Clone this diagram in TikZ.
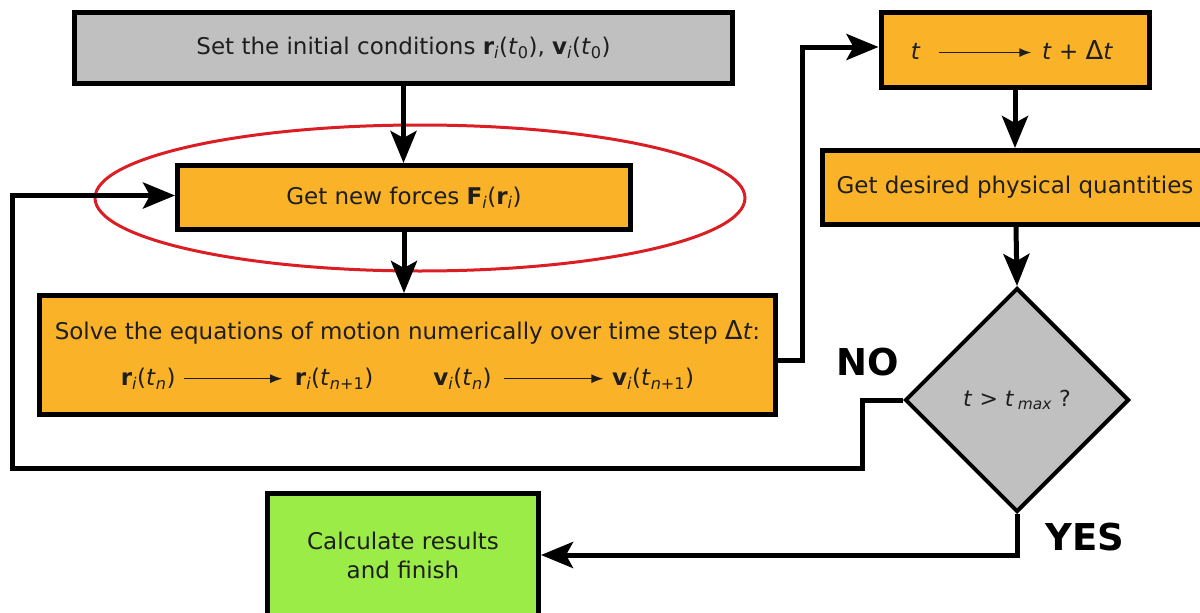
\documentclass[tikz,border=0pt]{standalone}
\usepackage{fontspec}
\setmainfont{DejaVu Sans}
\usetikzlibrary{arrows.meta,shapes.geometric}

\definecolor{boxorange}{RGB}{250,178,40}
\definecolor{boxgray}{RGB}{192,192,192}
\definecolor{boxgreen}{RGB}{155,236,70}
\definecolor{ringred}{RGB}{218,30,36}
\definecolor{inktext}{RGB}{30,30,30}

% bold vector with italic index, italic time with subscript
\newcommand{\vecsym}[1]{\textbf{#1}\textsubscript{\textit{i}}}
\newcommand{\tsub}[1]{\textit{t}\textsubscript{#1}}
\newcommand{\dlt}{{\fontsize{26}{29}\selectfont Δ}}
% thin inline arrow used inside the text lines
\newcommand{\thinto}[1]{\tikz[baseline=-0.55ex,x=1pt,y=1pt]\draw[line width=1.4pt,-{Latex[length=12pt,width=9pt]}] (0,0) -- (#1,0);}

\begin{document}
\begin{tikzpicture}[x=1pt,y=-1pt,
  flowbox/.style={draw=black,line width=5pt,inner sep=0pt,align=center,
    text=inktext,font=\fontsize{23}{29}\selectfont},
  decision/.style={diamond,draw=black,line width=4pt,fill=boxgray,inner sep=0pt,
    minimum width=224pt,minimum height=224pt,aspect=1,text=inktext,
    font=\fontsize{22}{26}\selectfont},
  flow/.style={line width=5pt,-{Stealth[length=32pt,width=26pt,inset=7pt]}},
  answer/.style={font=\fontsize{37}{40}\selectfont\bfseries,inner sep=0pt}]

\useasboundingbox (0,0) rectangle (1200,613);
\clip (0,0) rectangle (1200,613);

% highlight around the force evaluation step
\node[ellipse,draw=ringred,line width=3pt,minimum width=650pt,minimum height=146pt,
  inner sep=0pt] (focus) at (420,198) {};

\node[flowbox,fill=boxgray,minimum width=658pt,minimum height=71pt] (init) at (403.5,48)
  {Set the initial conditions \vecsym{r}(\tsub{0}), \vecsym{v}(\tsub{0})};

\node[flowbox,fill=boxorange,minimum width=453pt,minimum height=64pt] (forces) at (404,197.5)
  {Get new forces \vecsym{F}(\vecsym{r})};

\node[flowbox,fill=boxorange,minimum width=736pt,minimum height=119pt,
  font=\fontsize{23}{46}\selectfont] (solve) at (407.5,355)
  {Solve the equations of motion numerically over time step  \dlt\textit{t}:\\
   \vecsym{r}(\tsub{\textit{n}})\hspace{8pt}\thinto{98}\hspace{12pt}\vecsym{r}(\tsub{\textit{n}+1})\hspace{60pt}%
   \vecsym{v}(\tsub{\textit{n}})\hspace{12pt}\thinto{99}\hspace{8pt}\vecsym{v}(\tsub{\textit{n}+1})};

\node[flowbox,fill=boxorange,minimum width=268pt,minimum height=75pt] (step) at (1015,50)
  {\hspace{-6pt}\textit{t}\hspace{18pt}\thinto{92}\hspace{10pt}\textit{t} + \dlt\textit{t}};

\node[flowbox,fill=boxorange,minimum width=388pt,minimum height=74pt] (measure) at (1016,187.5)
  {Get desired physical quantities\hspace{2pt}};

\node[decision] (check) at (1017,400)
  {\textit{t} > \textit{t}\,\textsubscript{\textit{max}} ?};

\node[flowbox,fill=boxgreen,minimum width=271pt,minimum height=124pt,
  font=\fontsize{23}{29}\selectfont] (finish) at (403,555)
  {Calculate results\\and finish};

\node[answer] (no) at (868,362) {NO};
\node[answer] (yes) at (1085,537) {YES};

\coordinate (noturn) at (862,468);
\coordinate (leftrail) at (12,0);

\draw[flow] (init.south) -- (init.south |- forces.north);
\draw[flow] (forces.south) -- (forces.south |- solve.north);
\draw[flow] ([yshift=-5pt]solve.east) -| ++(24,0) |- ([yshift=3pt]step.west);
\draw[flow] (step.south) -- (step.south |- measure.north);
\draw[flow] (measure.south) -- (check.north);
\draw[flow] (check.west) -| (noturn) -- (noturn -| leftrail) |- ([yshift=2pt]forces.west);
\draw[flow] (check.south) |- (finish.east);

\end{tikzpicture}
\end{document}
